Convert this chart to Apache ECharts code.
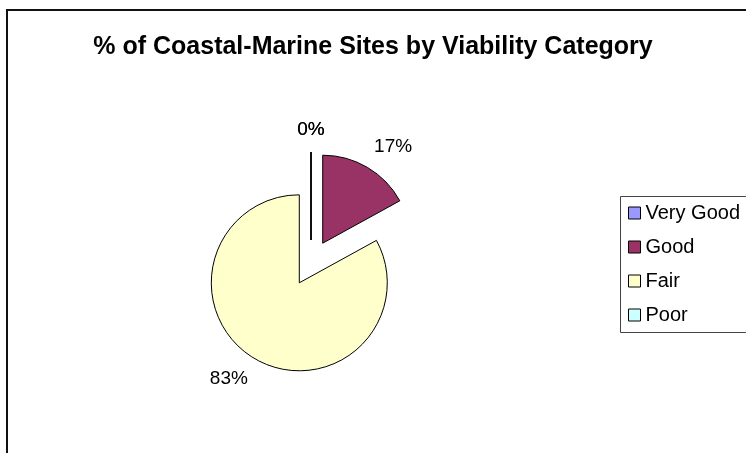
<!DOCTYPE html>
<html>
<head>
<meta charset="utf-8">
<script src="https://cdn.jsdelivr.net/npm/echarts@6/dist/echarts.min.js"></script>
<style>
  html, body { margin: 0; padding: 0; background: #fff; }
  #chart { width: 746px; height: 453px; }
</style>
</head>
<body>
<div id="chart"></div>
<script>
// data
const categories = ['Very Good', 'Good', 'Fair', 'Poor']
const values = [0, 17, 83, 0]
const sliceColors = ['#9999FF', '#993366', '#FFFFCC', '#CCFFFF']

const font = "'Liberation Sans', Arial, sans-serif"

const chart = echarts.init(document.getElementById('chart'))

const option = {
  animation: false,
  color: sliceColors,
  title: {
    text: '% of Coastal-Marine Sites by Viability Category',
    left: 'center',
    top: 30,
    textStyle: {
      fontFamily: font,
      fontSize: 25,
      fontWeight: 'bold',
      color: '#000'
    }
  },
  graphic: [
    { // outer chart frame
      type: 'rect',
      shape: { x: 7, y: 10, width: 900, height: 600 },
      style: { fill: 'none', stroke: '#111', lineWidth: 2 },
      silent: true
    },
    { // legend frame
      type: 'rect',
      shape: { x: 620.5, y: 196.5, width: 200, height: 136 },
      style: { fill: 'none', stroke: '#444', lineWidth: 1 },
      silent: true
    }
  ],
  legend: {
    orient: 'vertical',
    left: 628,
    top: 203,
    padding: 0,
    itemGap: 14,
    itemWidth: 12,
    itemHeight: 12,
    icon: 'rect',
    selectedMode: false,
    itemStyle: { borderColor: '#000', borderWidth: 1 },
    textStyle: { fontFamily: font, fontSize: 20, color: '#000' },
    data: categories
  },
  series: [
    {
      type: 'pie',
      center: [311, 263],
      radius: 88,
      startAngle: 90,
      clockwise: true,
      selectedMode: 'multiple',
      selectedOffset: 23,
      avoidLabelOverlap: false,
      percentPrecision: 0,
      itemStyle: { borderColor: '#000', borderWidth: 1 },
      select: { itemStyle: { borderColor: '#000', borderWidth: 1 } },
      emphasis: { disabled: true },
      label: {
        show: true,
        position: 'outside',
        formatter: '{d}%',
        fontFamily: font,
        fontSize: 19,
        color: '#000',
        distanceToLabelLine: 0
      },
      labelLine: { show: false, length: 13, length2: 0 },
      labelLayout: function (params) {
        const r = params.rect
        const l = params.labelRect
        const above = (l.y + l.height / 2) < (r.y + r.height / 2)
        const res = { verticalAlign: above ? 'bottom' : 'top' }
        if (values[params.dataIndex] === 0) res.align = 'center'
        return res
      },
      data: categories.map((name, i) => ({ name: name, value: values[i], selected: true }))
    }
  ]
}

chart.setOption(option)
</script>
</body>
</html>
